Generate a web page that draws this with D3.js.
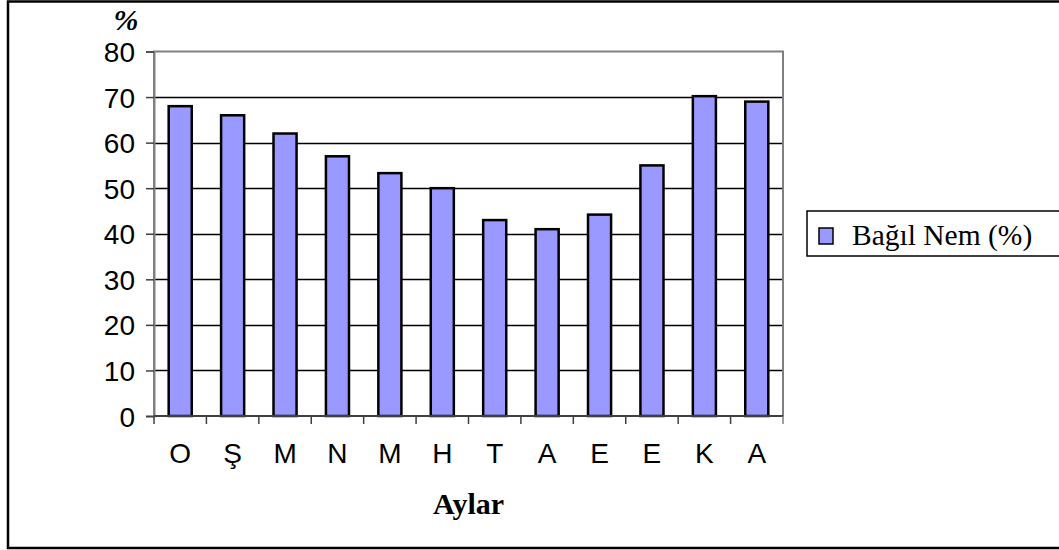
<!DOCTYPE html>
<html>
<head>
<meta charset="utf-8">
<script src="https://cdn.jsdelivr.net/npm/d3@7"></script>
<style>
  body { margin: 0; background: #fff; }
  svg { display: block; }
</style>
</head>
<body>
<svg id="chart"></svg>
<script>
// months (Ekim .. Ağustos) and relative humidity values
const months = ['O', 'Ş', 'M', 'N', 'M', 'H', 'T', 'A', 'E', 'E', 'K', 'A'];
const humidity = [68, 66, 62, 57, 53.3, 50, 43, 41, 44.2, 55, 70.2, 69];
const yTicks = [0, 10, 20, 30, 40, 50, 60, 70, 80];
const seriesName = 'Bağıl Nem (%)';

const width = 1059, height = 550;
const plot = { left: 154, right: 783, top: 51.5, bottom: 416 };

const svg = d3.select('#chart')
  .attr('width', width)
  .attr('height', height);

// outer chart frame (right side runs off the picture)
svg.append('rect')
  .attr('x', 8).attr('y', 1.5)
  .attr('width', 1070).attr('height', 546.5)
  .attr('fill', '#fff')
  .attr('stroke', '#000')
  .attr('stroke-width', 2.5);

const x = d3.scaleBand()
  .domain(d3.range(months.length))
  .range([plot.left, plot.right])
  .padding(0);

const y = d3.scaleLinear()
  .domain([0, 80])
  .range([plot.bottom, plot.top]);

// gridlines
svg.append('g')
  .selectAll('line')
  .data(yTicks.filter(t => t > 0 && t < 80))
  .enter().append('line')
    .attr('x1', plot.left).attr('x2', plot.right)
    .attr('y1', d => Math.round(y(d)) + 0.5)
    .attr('y2', d => Math.round(y(d)) + 0.5)
    .style('stroke', '#000')
    .style('stroke-width', 1.5);

// plot area border (gray)
svg.append('rect')
  .attr('x', plot.left).attr('y', plot.top)
  .attr('width', plot.right - plot.left)
  .attr('height', plot.bottom - plot.top)
  .attr('fill', 'none')
  .attr('stroke', '#808080')
  .attr('stroke-width', 2);

// bars
const barW = x.bandwidth() * 0.44;
svg.append('g')
  .selectAll('rect')
  .data(humidity)
  .enter().append('rect')
    .attr('x', (d, i) => x(i) + (x.bandwidth() - barW) / 2)
    .attr('y', d => y(d))
    .attr('width', barW)
    .attr('height', d => y(0) - y(d))
    .style('fill', '#9999ff')
    .style('stroke', '#000')
    .style('stroke-width', 2.5);

// y axis
const yAxis = d3.axisLeft(y)
  .tickValues(yTicks)
  .tickSize(8)
  .tickPadding(11)
  .tickFormat(d3.format('d'));

const gy = svg.append('g')
  .attr('transform', `translate(${plot.left},0)`)
  .call(yAxis);
gy.select('.domain').style('stroke', '#808080').style('stroke-width', 2);
gy.selectAll('.tick line').style('stroke', '#404040').style('stroke-width', 1.5);
gy.selectAll('.tick text')
  .style('font-family', 'Liberation Sans, Arial, sans-serif')
  .style('font-size', '28px')
  .attr('dy', '0.36em')
  .style('fill', '#000');

// x axis: ticks on band edges, labels centered
const edges = d3.range(months.length + 1).map(i => plot.left + i * x.step());
const gx = svg.append('g');
gx.append('line')
  .attr('x1', plot.left).attr('x2', plot.right)
  .attr('y1', plot.bottom).attr('y2', plot.bottom)
  .style('stroke', '#404040').style('stroke-width', 2);
gx.selectAll('.edge')
  .data(edges)
  .enter().append('line')
    .attr('class', 'edge')
    .attr('x1', d => d).attr('x2', d => d)
    .attr('y1', plot.bottom).attr('y2', plot.bottom + 8)
    .style('stroke', (d, i) => i === months.length ? '#808080' : '#404040')
    .style('stroke-width', 1.5);
gx.selectAll('text')
  .data(months)
  .enter().append('text')
    .attr('x', (d, i) => x(i) + x.bandwidth() / 2)
    .attr('y', 463)
    .attr('text-anchor', 'middle')
    .style('font-family', 'Liberation Sans, Arial, sans-serif')
    .style('font-size', '28px')
    .text(d => d);

// axis titles
svg.append('text')
  .attr('x', (plot.left + plot.right) / 2)
  .attr('y', 514)
  .attr('text-anchor', 'middle')
  .style('font-family', 'Liberation Serif, Times New Roman, serif')
  .style('font-weight', 'bold')
  .style('font-size', '30px')
  .text('Aylar');

svg.append('text')
  .attr('x', 126)
  .attr('y', 30)
  .attr('text-anchor', 'middle')
  .style('font-family', 'Liberation Serif, Times New Roman, serif')
  .style('font-style', 'italic')
  .style('font-weight', 'bold')
  .style('font-size', '30px')
  .text('%');

// legend
const legend = svg.append('g');
legend.append('rect')
  .attr('x', 807).attr('y', 211)
  .attr('width', 270).attr('height', 45)
  .attr('fill', '#fff')
  .attr('stroke', '#000')
  .attr('stroke-width', 1.5);
legend.append('rect')
  .attr('x', 819).attr('y', 228)
  .attr('width', 14).attr('height', 16)
  .style('fill', '#9999ff')
  .style('stroke', '#000')
  .style('stroke-width', 1.5);
legend.append('text')
  .attr('x', 852).attr('y', 245)
  .style('font-family', 'Liberation Serif, Times New Roman, serif')
  .style('font-size', '29.5px')
  .text(seriesName);
</script>
</body>
</html>
